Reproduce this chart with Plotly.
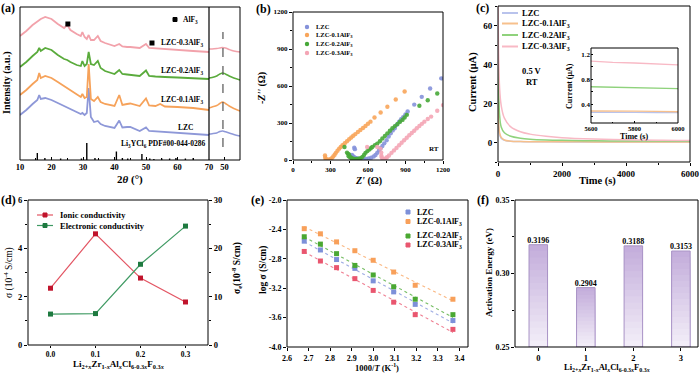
import numpy as np
import plotly.graph_objects as go

W, H = 700, 374
def fx(p): return p / W
def fy(p): return 1 - p / H

FONT = "Liberation Serif"

# ---------------- data ----------------
# (a) XRD (arbitrary intensity units)
xrd_tt = [10, 12, 14, 15.5, 16.1, 16.6, 18, 20, 22, 24, 25, 26, 28, 29.3, 29.8, 30.5, 31.2, 31.8,
          32.5, 33.5, 34.7, 35.6, 37, 40, 41.5, 42.5, 44, 45, 48, 50, 51, 53, 54.5, 56, 60, 65, 70]
xrd_03 = [124, 129, 135, 139, 140, 141, 143, 141, 136, 132, 135, 130, 126, 124, 128, 123, 121, 125,
          120, 120, 124, 119, 117, 114, 116, 113.5, 113, 113, 112, 116, 112, 111.5, 111, 110.5, 110, 109, 108]
xrd_02 = [93, 98, 104, 108, 112, 109, 112, 110, 105, 101, 100, 98, 95, 94, 99, 94, 96, 108,
          96, 95, 99, 92, 89, 86, 90, 86, 85.5, 85, 84, 89.5, 84, 83.5, 83.5, 83, 82.5, 81.5, 81]
xrd_01 = [65, 70, 76, 80, 87, 82, 84, 82, 78, 74, 72, 70, 66, 63, 66, 62, 63, 96,
          61, 59, 63, 58, 56, 54, 65, 55, 56, 56.5, 54, 61.5, 54.5, 54, 56, 53.5, 53, 52, 50]
xrd_lzc = [45, 50, 56, 60, 65, 61, 62, 60, 57, 54, 53, 51, 48, 46, 47, 45, 47, 72,
           43, 38, 39, 36, 34, 32, 39.5, 32.5, 33, 33, 29, 32.5, 29, 28.5, 28.5, 28, 27, 26, 25]
xrd_tt_zoom = [45, 46, 47.5, 48.5, 49.4, 50.3, 51.5, 53, 55]
xrd_03_zoom = [111, 111, 111.5, 112, 112.5, 112, 110.5, 109, 108]
xrd_02_zoom = [82, 82.5, 84, 86, 87, 86, 84, 82, 80]
xrd_01_zoom = [52, 53, 54.5, 56.5, 58, 56.5, 54, 51.5, 49]
xrd_lzc_zoom = [26, 26.3, 27, 28.5, 29, 28.2, 27, 25.5, 24]
pdf_tt = [15.5, 17.9, 22.9, 29.5, 31.2, 33.8, 40.6, 42.5, 44.2, 48.7, 51.2, 52.5, 55.0, 57.5, 59.5, 62.5, 65.0]
pdf_h = [7, 2, 1.5, 1.5, 17, 2, 8.5, 2, 1.5, 6, 1.5, 1, 1.5, 1.5, 2, 1.5, 2]
alf3_tt = [25.2, 51.9]
alf3_I = [136, 117]

# (b) Nyquist
b_lzc_re = [472, 480, 490, 502, 515, 490, 495, 525, 545, 565, 585, 605, 625, 645, 660, 674, 688, 700, 715,
            730, 749, 765, 782, 798, 814, 830, 849, 865, 881, 900, 917, 970, 1030, 1097, 1186]
b_lzc_im = [40, 30, 22, 16, 12, 100, 88, 8, 6, 6, 8, 12, 18, 28, 40, 58, 78, 95, 113,
            135, 160, 190, 216, 240, 257, 285, 311, 330, 347, 370, 393, 449, 512, 580, 662]
b_01_re = [256, 258, 262, 272, 285, 298, 310, 322, 333, 343, 356, 369, 382, 396, 414, 432, 449, 466, 482,
           499, 519, 539, 560, 580, 600, 620, 652, 701, 755, 822, 893]
b_01_im = [37, 20, 8, 3, 2, 6, 15, 28, 42, 58, 75, 92, 106, 119, 136, 152, 168, 183, 197,
           210, 227, 243, 260, 276, 294, 311, 344, 385, 432, 490, 556]
b_02_re = [412, 432, 440, 448, 445, 455, 462, 470, 480, 495, 510, 525, 540, 555, 568, 580, 595, 610, 622,
           634, 655, 674, 695, 715, 735, 755, 775, 795, 815, 836, 856, 876, 893, 911, 1011, 1078, 1154]
b_02_im = [105, 60, 50, 45, 30, 25, 20, 14, 10, 8, 8, 10, 15, 25, 40, 58, 72, 85, 95,
           105, 120, 133, 152, 174, 195, 216, 237, 257, 275, 292, 310, 325, 345, 366, 440, 484, 539]
b_03_re = [593, 674, 700, 706, 707, 710, 717, 728, 740, 752, 768, 788, 808, 828, 849, 869, 889, 910,
           930, 950, 970, 990, 1011, 1031, 1051, 1078, 1105, 1154, 1200]
b_03_im = [105, 105, 92, 60, 35, 20, 10, 6, 12, 22, 37, 58, 78, 98, 119, 140, 160, 181,
           201, 219, 237, 257, 276, 293, 311, 332, 352, 399, 445]

# (c) DC polarization
c_t = [0, 20, 50, 100, 200, 400, 700, 1000, 1500, 2000, 3000, 4000, 5000, 5600, 5700, 5800, 5900, 6000]
c_lzc = [25, 8, 4, 2.2, 1.1, 0.6, 0.45, 0.38, 0.34, 0.31, 0.3, 0.29, 0.285, 0.28, 0.275, 0.27, 0.268, 0.265]
c_01 = [30, 10, 5, 2.6, 1.3, 0.7, 0.5, 0.42, 0.37, 0.34, 0.32, 0.31, 0.305, 0.30, 0.295, 0.29, 0.285, 0.28]
c_02 = [55, 28, 14, 8, 5, 3.2, 2.2, 1.7, 1.3, 1.1, 0.9, 0.78, 0.72, 0.68, 0.675, 0.67, 0.66, 0.65]
c_03 = [70, 45, 28, 19, 12.5, 8, 5.5, 4.3, 3.2, 2.5, 1.8, 1.4, 1.2, 1.08, 1.07, 1.06, 1.045, 1.03]

# (d) conductivities
d_x = [0.0, 0.1, 0.2, 0.3]
d_ionic = [2.35, 4.6, 2.77, 1.78]
d_elec = [6.4, 6.5, 16.7, 24.6]

# (e) Arrhenius
e_x = [2.68, 2.755, 2.83, 2.915, 3.0, 3.095, 3.195, 3.37]
e_lzc = [-2.56, -2.68, -2.81, -2.93, -3.10, -3.25, -3.42, -3.64]
e_01 = [-2.39, -2.46, -2.57, -2.69, -2.82, -2.98, -3.16, -3.35]
e_02 = [-2.50, -2.60, -2.73, -2.89, -3.02, -3.18, -3.35, -3.56]
e_03 = [-2.70, -2.83, -2.92, -3.07, -3.23, -3.39, -3.56, -3.76]
e_yticks = [-4.0, -3.6, -3.2, -2.8, -2.4, -2.0]

# (f) activation energy
f_x = [0, 1, 2, 3]
f_ea = [0.3196, 0.2904, 0.3188, 0.3153]

names = ["LZC", "LZC-0.1AlF<sub>3</sub>", "LZC-0.2AlF<sub>3</sub>", "LZC-0.3AlF<sub>3</sub>"]

# ---------------- styles ----------------
A_COL = ["#8e98d8", "#f6a25a", "#5aab3c", "#f2a2ab"]
B_COL = ["#8592da", "#f8a55a", "#47a838", "#f4a5b5"]
C_COL = ["#b9c3ec", "#f7c08c", "#8fd27c", "#f8b9c5"]
E_COL = ["#7d90d9", "#f8a05a", "#4aa832", "#e9566f"]

fig = go.Figure()

# (a)
for arr, arrz, col in zip([xrd_lzc, xrd_01, xrd_02, xrd_03],
                          [xrd_lzc_zoom, xrd_01_zoom, xrd_02_zoom, xrd_03_zoom], A_COL):
    fig.add_trace(go.Scatter(x=xrd_tt, y=arr, mode="lines", line=dict(color=col, width=1.8),
                             xaxis="x", yaxis="y", showlegend=False))
    fig.add_trace(go.Scatter(x=xrd_tt_zoom, y=arrz, mode="lines", line=dict(color=col, width=1.5, shape="spline"),
                             xaxis="x2", yaxis="y", showlegend=False))
sx, sy = [], []
for t, h in zip(pdf_tt, pdf_h):
    sx += [t, t, None]
    sy += [0, h, None]
fig.add_trace(go.Scatter(x=sx, y=sy, mode="lines", line=dict(color="black", width=1.4),
                         xaxis="x", yaxis="y", showlegend=False))
fig.add_trace(go.Scatter(x=alf3_tt, y=alf3_I, mode="markers",
                         marker=dict(symbol="square", size=5, color="black"),
                         xaxis="x", yaxis="y", showlegend=False))
fig.add_trace(go.Scatter(x=[49.5, 49.5], y=[13, 128], mode="lines",
                         line=dict(color="#555555", width=1.2, dash="dash"),
                         xaxis="x2", yaxis="y", showlegend=False))

# (b)
for re_, im_, col in zip([b_lzc_re, b_01_re, b_02_re, b_03_re], [b_lzc_im, b_01_im, b_02_im, b_03_im], B_COL):
    fig.add_trace(go.Scatter(x=re_, y=im_, mode="markers", marker=dict(size=4.4, color=col, opacity=0.9),
                             xaxis="x3", yaxis="y3", showlegend=False, cliponaxis=True))

# (c)
for arr, col in zip([c_lzc, c_01, c_02, c_03], C_COL):
    fig.add_trace(go.Scatter(x=c_t, y=arr, mode="lines", line=dict(color=col, width=1.5, shape="spline"),
                             xaxis="x4", yaxis="y4", showlegend=False))
    fig.add_trace(go.Scatter(x=c_t, y=arr, mode="lines", line=dict(color=col, width=1.3),
                             xaxis="x5", yaxis="y5", showlegend=False))

# (d)
fig.add_trace(go.Scatter(x=d_x, y=d_ionic, mode="lines+markers",
                         line=dict(color="#e35563", width=1.2),
                         marker=dict(symbol="square", size=5, color="#c0142c"),
                         xaxis="x6", yaxis="y6", showlegend=False))
fig.add_trace(go.Scatter(x=d_x, y=d_elec, mode="lines+markers",
                         line=dict(color="#3f9a63", width=1.2),
                         marker=dict(symbol="square", size=5, color="#1e7a40"),
                         xaxis="x6", yaxis="y7", showlegend=False))

# (e)
for arr, col in zip([e_lzc, e_01, e_02, e_03], E_COL):
    k, b = np.polyfit(e_x, arr, 1)
    xs = np.array([e_x[0], e_x[-1]])
    fig.add_trace(go.Scatter(x=xs, y=k * xs + b, mode="lines", line=dict(color=col, width=1.1, dash="dot"),
                             opacity=0.75, xaxis="x8", yaxis="y8", showlegend=False))
    fig.add_trace(go.Scatter(x=e_x, y=arr, mode="markers", marker=dict(symbol="square", size=5, color=col),
                             xaxis="x8", yaxis="y8", showlegend=False))

# (f) gradient bars
N = 16
top_rgb = np.array([196, 174, 220])
bot_rgb = np.array([246, 242, 250])
for k in range(N):
    frac = 1 - k / N
    c = top_rgb * frac + bot_rgb * (1 - frac)
    ys = [0.25 + (v - 0.25) * frac for v in f_ea]
    fig.add_trace(go.Bar(x=f_x, y=[y - 0.25 for y in ys], base=0.25, width=0.39,
                         marker=dict(color="rgb(%d,%d,%d)" % tuple(c), line=dict(width=0)),
                         xaxis="x9", yaxis="y9", showlegend=False, hoverinfo="skip"))
fig.add_trace(go.Bar(x=f_x, y=[v - 0.25 for v in f_ea], base=0.25, width=0.39,
                     marker=dict(color="rgba(0,0,0,0)", line=dict(width=1, color="#a993c6")),
                     xaxis="x9", yaxis="y9", showlegend=False))
fig.add_trace(go.Scatter(x=f_x, y=f_ea, mode="text", text=["%.4f" % v for v in f_ea],
                         textposition="top center",
                         textfont=dict(family=FONT, size=8, color="black", weight="bold"),
                         xaxis="x9", yaxis="y9", showlegend=False))

# ---------------- axes ----------------
def tf(size=8.5):
    return dict(family=FONT, size=size, color="black", weight="bold")

def xax(p0, p1, rng, anchor, **kw):
    d = dict(domain=[fx(p0), fx(p1)], range=rng, anchor=anchor, showgrid=False, zeroline=False,
             showline=False, ticks="outside", ticklen=3, tickwidth=1, tickcolor="black", tickfont=tf(),
             automargin=False, fixedrange=True)
    d.update(kw)
    return d

def yax(p0, p1, rng, anchor, **kw):
    d = dict(domain=[fy(p1), fy(p0)], range=rng, anchor=anchor, showgrid=False, zeroline=False,
             showline=False, ticks="outside", ticklen=3, tickwidth=1, tickcolor="black", tickfont=tf(),
             automargin=False, fixedrange=True)
    d.update(kw)
    return d

layout = dict(
    width=W, height=H, autosize=False, margin=dict(l=0, r=0, t=0, b=0, pad=0),
    paper_bgcolor="white", plot_bgcolor="white", barmode="overlay", showlegend=False,
    font=dict(family=FONT, color="black"),
)
# (a)
layout["xaxis"] = xax(20, 209, [10, 70], "y", tickvals=[10, 20, 30, 40, 50, 60, 70], ticks="inside",
                      minor=dict(ticks="inside", ticklen=2, dtick=5, tick0=10))
layout["xaxis2"] = xax(209, 240, [45, 55], "y", tickvals=[50], ticks="inside",
                       minor=dict(ticks="inside", ticklen=2, tickvals=[45, 55]))
layout["yaxis"] = yax(7, 160, [0, 153], "x", showticklabels=False, ticks="")
# (b)
layout["xaxis3"] = xax(293, 443, [0, 1200], "y3", dtick=300, tick0=0, tickfont=tf(7),
                       minor=dict(ticks="outside", ticklen=2, dtick=150))
layout["yaxis3"] = yax(12, 160, [0, 1200], "x3", dtick=300, tick0=0, tickfont=tf(7),
                       minor=dict(ticks="outside", ticklen=2, dtick=150))
# (c)
layout["xaxis4"] = xax(498, 690, [0, 6000], "y4", dtick=2000, tickfont=tf(9),
                       minor=dict(ticks="outside", ticklen=2, dtick=1000))
layout["yaxis4"] = yax(6, 162, [-10, 70], "x4", tickvals=[0, 20, 40, 60], tickfont=tf(9),
                       minor=dict(ticks="outside", ticklen=2, tickvals=[-10, 10, 30, 50, 70]))
layout["xaxis5"] = xax(591, 678, [5600, 6000], "y5", tickvals=[5600, 5800, 6000], tickfont=tf(6.5),
                       ticks="inside", ticklen=2,
                       minor=dict(ticks="inside", ticklen=1.5, tickvals=[5700, 5900]))
layout["yaxis5"] = yax(48, 123, [0.1, 1.3], "x5", tickvals=[0.4, 0.8, 1.2], tickformat=".1f", tickfont=tf(7),
                       ticks="inside", ticklen=2,
                       minor=dict(ticks="inside", ticklen=1.5, tickvals=[0.2, 0.6, 1.0]))
# (d)
layout["xaxis6"] = xax(28, 208, [-0.05, 0.35], "y6", tickvals=d_x, tickformat=".1f", tickfont=tf(7.5),
                       ticklen=2)
layout["yaxis6"] = yax(200, 345, [0, 6], "x6", tickvals=[0, 2, 4, 6],
                       minor=dict(ticks="outside", ticklen=2, tickvals=[1, 3, 5]))
layout["yaxis7"] = yax(200, 345, [0, 30], "x6", overlaying="y6", side="right", tickvals=[0, 10, 20, 30],
                       minor=dict(ticks="outside", ticklen=2, tickvals=[5, 15, 25]))
# (e)
layout["xaxis8"] = xax(287, 468, [2.6, 3.44], "y8", tickvals=[2.6, 2.7, 2.8, 2.9, 3.0, 3.1, 3.2, 3.3, 3.4],
                       tickformat=".1f", tickfont=tf(8))
layout["yaxis8"] = yax(200, 347, [-4.0, -2.0], "x8", tickvals=e_yticks,
                       ticktext=["%.1f" % v for v in e_yticks], tickfont=tf(8))
# (f)
layout["xaxis9"] = xax(515, 698, [-0.49, 3.36], "y9", tickvals=f_x, tickfont=tf(8.5))
layout["yaxis9"] = yax(200, 347, [0.25, 0.35], "x9", tickvals=[0.25, 0.30, 0.35], tickformat=".2f",
                       tickfont=tf(8), minor=dict(ticks="outside", ticklen=2, tickvals=[0.275, 0.325]))

fig.update_layout(**layout)

# ---------------- frames & legend glyphs ----------------
shapes = []
def rect(x0, y0, x1, y1, color="black", w=1, fill=None):
    shapes.append(dict(type="rect", xref="paper", yref="paper", x0=fx(x0), x1=fx(x1), y0=fy(y1), y1=fy(y0),
                       line=dict(color=color, width=w), fillcolor=fill if fill else "rgba(0,0,0,0)",
                       layer="above"))
def line(x0, y0, x1, y1, color="black", w=1, dash="solid"):
    shapes.append(dict(type="line", xref="paper", yref="paper", x0=fx(x0), x1=fx(x1), y0=fy(y0), y1=fy(y1),
                       line=dict(color=color, width=w, dash=dash), layer="above"))
def circle(cx, cy, r, color):
    shapes.append(dict(type="circle", xref="paper", yref="paper", x0=fx(cx - r), x1=fx(cx + r),
                       y0=fy(cy + r), y1=fy(cy - r), line=dict(width=0), fillcolor=color, layer="above"))

rect(20, 7, 240, 160)
line(209, 7, 209, 160, w=1.2)
rect(293, 12, 443, 160)
rect(498, 6, 690, 162)
rect(591, 48, 678, 123)
rect(28, 200, 208, 345)
rect(287, 200, 468, 347)
rect(515, 200, 698, 347)

ann = []
def text(x, y, s, size=9, bold=True, anchor="center", angle=0):
    ann.append(dict(x=fx(x), y=fy(y), xref="paper", yref="paper", text=s, showarrow=False,
                    xanchor=anchor, yanchor="middle", textangle=angle,
                    font=dict(family=FONT, size=size, color="black", weight="bold" if bold else "normal")))

# panel labels
text(8, 8, "(a)", 12); text(263, 9, "(b)", 12); text(483, 8, "(c)", 12)
text(8, 200, "(d)", 12); text(257, 200, "(e)", 12); text(483, 200, "(f)", 12)

# (a) texts
text(7, 83, "Intensity (a.u.)", 10, angle=-90)
text(130, 180, "2<i>θ</i> (°)", 11)
text(182, 43, "LZC-0.3AlF<sub>3</sub>", 7.5)
text(182, 71, "LZC-0.2AlF<sub>3</sub>", 7.5)
text(182, 100, "LZC-0.1AlF<sub>3</sub>", 7.5)
text(185, 127, "LZC", 7.5)
text(163, 144, "Li<sub>3</sub>YCl<sub>6</sub> PDF#00-044-0286", 7.5)
rect(173, 17.5, 177, 21.5, fill="black")
text(181, 20, "AlF<sub>3</sub>", 7.5, anchor="left")

# (b) texts
text(262, 88, "-<i>Z''</i> (Ω)", 10, angle=-90)
text(368, 181, "<i>Z'</i> (Ω)", 10)
text(434, 149, "RT", 7)
for i, (nm, col) in enumerate(zip(names, B_COL)):
    yy = [27, 35, 44, 53][i]
    circle(307, yy, 2.2, col)
    text(314, yy, nm, 6.5, anchor="left")

# (c) texts
text(473, 82, "Current (μA)", 10.5, angle=-90)
text(597, 181, "Time (s)", 10.5)
text(532, 71, "0.5 V", 8.5)
text(532, 82, "RT", 8.5)
text(569, 86, "Current (μA)", 8, angle=-90)
text(634, 136, "Time (s)", 8)
for i, (nm, col) in enumerate(zip(names, C_COL)):
    yy = [13, 23.5, 35, 46.5][i]
    line(502, yy, 518, yy, color=col, w=2)
    text(520, yy, nm, 8.5, anchor="left")

# (d) texts
text(8, 273, "σ (10<sup>-4</sup> S/cm)", 9.5, bold=False, angle=-90)
text(236, 268, "σ<sub>e</sub>(10<sup>-8</sup> S/cm)", 9.5, angle=-90)
text(118, 364, "Li<sub>2+<i>x</i></sub>Zr<sub>1-<i>x</i></sub>Al<sub><i>x</i></sub>Cl<sub>6-0.3<i>x</i></sub>F<sub>0.3<i>x</i></sub>", 9)
line(37, 215, 53, 215, color="#e35563", w=1.2)
rect(43, 213, 47, 217, color="#c0142c", fill="#c0142c")
text(58, 215, "Ionic conductivity", 8.5, anchor="left")
line(37, 225.5, 53, 225.5, color="#3f9a63", w=1.2)
rect(43, 223.5, 47, 227.5, color="#1e7a40", fill="#1e7a40")
text(58, 225.5, "Electronic conductivity", 8.5, anchor="left")

# (e) texts
text(263, 270, "log σ (S/cm)", 9.5, angle=-90)
text(377, 367, "1000/<i>T</i> (K<sup>-1</sup>)", 8.5)
for i, (nm, col) in enumerate(zip(names, E_COL)):
    yy = [212, 221.5, 236, 245][i]
    rect(406, yy - 2, 410, yy + 2, color=col, fill=col)
    text(415, yy, nm, 8, anchor="left")

# (f) texts
text(489, 273, "Activation Energy (eV)", 9, angle=-90)
text(607, 367, "Li<sub>2+<i>x</i></sub>Zr<sub>1-<i>x</i></sub>Al<sub><i>x</i></sub>Cl<sub>6-0.3<i>x</i></sub>F<sub>0.3<i>x</i></sub>", 8.5)

fig.update_layout(shapes=shapes, annotations=ann)
fig.write_html("out.html", config={"displayModeBar": False, "staticPlot": True},
               post_script="document.body.style.margin='0px';document.body.style.padding='0px';")
